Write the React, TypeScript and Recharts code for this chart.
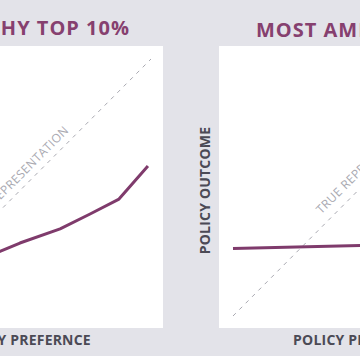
import React from 'react';
import { LineChart, Line, XAxis, YAxis, ReferenceLine } from 'recharts';

// wealthy top 10% — outcome follows their preference
const richPref = [35, 41, 48.8, 64.5, 76.2, 87.5, 98.8];
const richOutcome = [22.5, 25.1, 28.4, 33.9, 39.7, 45.5, 58.4];

// most americans — outcome barely moves
const mostPref = [0, 50, 100];
const mostOutcome = [26.3, 27.4, 28.5];

const diagonal = [0, 100];

const PURPLE = '#7f3b6c';
const TITLE = '#86406f';
const DARK = '#4b4a55';
const DASH = '#a9a9b1';
const BG = '#e3e3e9';
const FONT = '"Open Sans", sans-serif';

const PANEL = 282;
const GUTTER = 56;
const CHART_W = GUTTER + PANEL;
const CHART_H = 356;
const PANEL_TOP = 46;

type Pt = { x: number; y: number };

const toPoints = (xs: number[], ys: number[]): Pt[] => xs.map((x, i) => ({ x, y: ys[i] }));

function Diagonal(props: any, t: number, off: number) {
  const { x1, y1, x2, y2 } = props;
  const dx = x2 - x1;
  const dy = y2 - y1;
  const len = Math.sqrt(dx * dx + dy * dy);
  const angle = (Math.atan2(dy, dx) * 180) / Math.PI;
  const nx = dy / len;
  const ny = -dx / len;
  const tx = x1 + dx * t + nx * off;
  const ty = y1 + dy * t + ny * off;
  return (
    <g>
      <line x1={x1} y1={y1} x2={x2} y2={y2} stroke={DASH} strokeWidth={1} strokeDasharray="4 5" />
      <text
        x={tx}
        y={ty}
        transform={`rotate(${angle}, ${tx}, ${ty})`}
        textAnchor="start"
        fontFamily={FONT}
        fontSize={12}
        letterSpacing={0.4}
        fill={DASH}
      >
        TRUE REPRESENTATION
      </text>
    </g>
  );
}

function Panel({
  left,
  title,
  titleX,
  titleY,
  anchor,
  data,
  labelT,
  labelOff,
}: {
  left: number;
  title: string;
  titleX: number;
  titleY: number;
  anchor: 'start' | 'end';
  data: Pt[];
  labelT: number;
  labelOff: number;
}) {
  return (
    <>
      <div
        style={{
          position: 'absolute',
          left: left + GUTTER,
          top: PANEL_TOP,
          width: PANEL,
          height: PANEL,
          background: '#ffffff',
        }}
      />
      <div
        style={{
          position: 'absolute',
          top: titleY - 18,
          ...(anchor === 'start' ? { left: titleX } : { right: 360 - titleX }),
          whiteSpace: 'nowrap',
          fontFamily: FONT,
          fontWeight: 700,
          fontSize: 20,
          lineHeight: '20px',
          letterSpacing: 1,
          color: TITLE,
        }}
      >
        {title}
      </div>
      <div style={{ position: 'absolute', left, top: 0 }}>
        <LineChart width={CHART_W} height={CHART_H} margin={{ top: 59, right: 12, bottom: 0, left: 0 }}>
          <XAxis
            type="number"
            dataKey="x"
            domain={[0, 100]}
            height={40}
            tick={false}
            axisLine={false}
            tickLine={false}
            label={(p: any) => {
              const vb = p.viewBox;
              return (
                <text
                  x={vb.x + vb.width / 2}
                  y={vb.y + 29}
                  textAnchor="middle"
                  fontFamily={FONT}
                  fontWeight={700}
                  fontSize={14}
                  letterSpacing={0.2}
                  fill={DARK}
                >
                  POLICY PREFERNCE
                </text>
              );
            }}
          />
          <YAxis
            type="number"
            dataKey="y"
            domain={[0, 100]}
            width={70}
            tick={false}
            axisLine={false}
            tickLine={false}
            label={(p: any) => {
              const vb = p.viewBox;
              const cx = vb.x + 47;
              const cy = vb.y + vb.height / 2 + 3;
              return (
                <text
                  x={cx}
                  y={cy}
                  transform={`rotate(-90, ${cx}, ${cy})`}
                  textAnchor="middle"
                  fontFamily={FONT}
                  fontWeight={700}
                  fontSize={14}
                  letterSpacing={0.2}
                  fill={DARK}
                >
                  POLICY OUTCOME
                </text>
              );
            }}
          />
          <ReferenceLine
            segment={[
              { x: diagonal[0], y: diagonal[0] },
              { x: diagonal[1], y: diagonal[1] },
            ]}
            shape={(p: any) => Diagonal(p, labelT, labelOff)}
          />
          <Line
            data={data}
            dataKey="y"
            type="linear"
            stroke={PURPLE}
            strokeWidth={3}
            strokeLinejoin="round"
            dot={false}
            activeDot={false}
            isAnimationActive={false}
          />
        </LineChart>
      </div>
    </>
  );
}

export default function App() {
  return (
    <div
      style={{
        position: 'absolute',
        left: 0,
        top: 0,
        width: 360,
        height: 356,
        overflow: 'hidden',
        background: BG,
      }}
    >
      <Panel
        left={-119 - GUTTER}
        title="WEALTHY TOP 10%"
        titleX={130}
        titleY={36}
        anchor="end"
        data={toPoints(richPref, richOutcome)}
        labelT={0.314}
        labelOff={7}
      />
      <Panel
        left={219 - GUTTER}
        title="MOST AMERICANS"
        titleX={256}
        titleY={38}
        anchor="start"
        data={toPoints(mostPref, mostOutcome)}
        labelT={0.37}
        labelOff={9}
      />
    </div>
  );
}
